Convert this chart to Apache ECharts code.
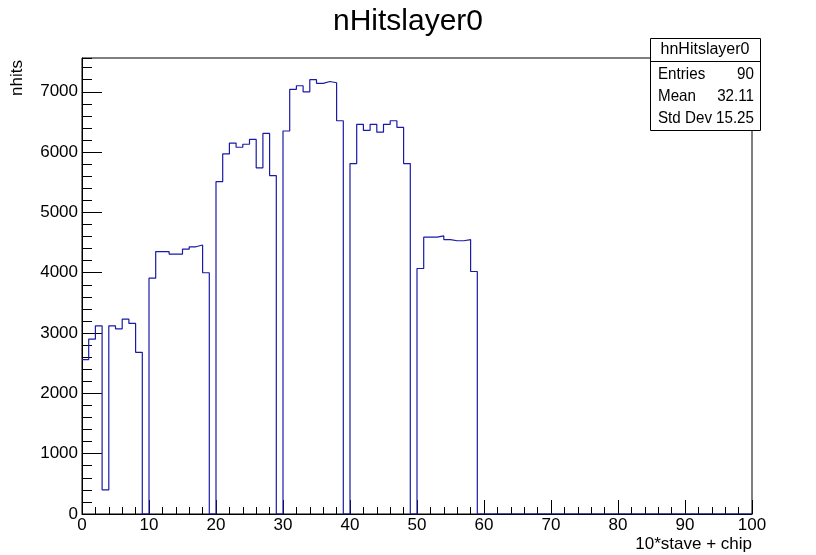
<!DOCTYPE html>
<html>
<head>
<meta charset="utf-8">
<script src="https://cdn.jsdelivr.net/npm/echarts@6/dist/echarts.min.js"></script>
<style>
html,body{margin:0;padding:0;background:#fff;}
#c{width:816px;height:555px;}
</style>
</head>
<body>
<div id="c"></div>
<script>
// Histogram bin contents, 100 bins from 0 to 100
var binValues = [
  2560, 2900, 3120, 400, 3120, 3070, 3230, 3160, 2680, 0,
  3910, 4350, 4350, 4310, 4310, 4390, 4430, 4460, 4000, 0,
  5510, 5970, 6150, 6080, 6130, 6210, 5740, 6310, 5610, 0,
  6350, 7040, 7100, 7000, 7200, 7140, 7170, 7150, 6520, 0,
  5810, 6460, 6360, 6460, 6330, 6460, 6520, 6410, 5810, 0,
  4070, 4590, 4590, 4610, 4550, 4530, 4530, 4550, 4020, 0,
  0, 0, 0, 0, 0, 0, 0, 0, 0, 0,
  0, 0, 0, 0, 0, 0, 0, 0, 0, 0,
  0, 0, 0, 0, 0, 0, 0, 0, 0, 0,
  0, 0, 0, 0, 0, 0, 0, 0, 0, 0
];
var xMin = 0, xMax = 100;
var yMin = 0, yMax = 7560;
var titleText = 'nHitslayer0';
var xTitle = '10*stave + chip';
var yTitle = 'nhits';
var statsName = 'hnHitslayer0';
var statsLabels = ['Entries', 'Mean', 'Std Dev'];
var statsValues = ['90', '32.11', '15.25'];

var binWidth = (xMax - xMin) / binValues.length;
var stepData = binValues.map(function (v, i) { return [xMin + i * binWidth, v]; });
stepData.push([xMax, binValues[binValues.length - 1]]);

var FONT = 'Liberation Sans, Arial, Helvetica, sans-serif';
var chart = echarts.init(document.getElementById('c'));

var statsGraphics = [
  { type: 'rect', shape: { x: 650.5, y: 38.5, width: 110, height: 92 },
    style: { fill: '#fff', stroke: '#000', lineWidth: 1 }, z: 100 },
  { type: 'line', shape: { x1: 650.5, y1: 61.5, x2: 760.5, y2: 61.5 },
    style: { stroke: '#000', lineWidth: 1 }, z: 101 },
  { type: 'text', x: 705, y: 50, z: 102,
    style: { text: statsName, font: '16px ' + FONT, fill: '#000', textAlign: 'center', textVerticalAlign: 'middle' } }
];
statsLabels.forEach(function (lab, i) {
  statsGraphics.push({ type: 'text', x: 658, y: 74 + i * 22, z: 102, scaleX: 0.92,
    style: { text: lab, font: '16.5px ' + FONT, fill: '#000', textAlign: 'left', textVerticalAlign: 'middle' } });
  statsGraphics.push({ type: 'text', x: 754, y: 74 + i * 22, z: 102, scaleX: 0.92,
    style: { text: statsValues[i], font: '16.5px ' + FONT, fill: '#000', textAlign: 'right', textVerticalAlign: 'middle' } });
});

chart.setOption({
  animation: false,
  backgroundColor: '#fff',
  title: {
    text: titleText, left: 'center', top: 2,
    textStyle: { fontFamily: FONT, fontSize: 30, fontWeight: 'normal', color: '#000' }
  },
  grid: { left: 82, right: 64, top: 58, bottom: 41, show: true, borderColor: '#000', borderWidth: 1, backgroundColor: 'transparent' },
  xAxis: {
    type: 'value', min: xMin, max: xMax, interval: 10,
    name: xTitle, nameLocation: 'end', nameGap: 0,
    nameTextStyle: { fontFamily: FONT, fontSize: 17, color: '#000', align: 'right', verticalAlign: 'top', padding: [22, 0, 0, 0] },
    axisLine: { show: true, onZero: false, lineStyle: { color: '#000', width: 1 } },
    axisTick: { show: true, inside: true, length: 14, lineStyle: { color: '#000' } },
    minorTick: { show: true, splitNumber: 5, length: 7, lineStyle: { color: '#000' } },
    axisLabel: { fontFamily: FONT, fontSize: 17, color: '#000', margin: 3 },
    splitLine: { show: false }
  },
  yAxis: [{
    type: 'value', min: yMin, max: yMax, interval: 1000, position: 'left',
    name: yTitle, nameLocation: 'end', nameRotate: 90, nameGap: 0,
    nameTextStyle: { fontFamily: FONT, fontSize: 17, color: '#000', align: 'right', verticalAlign: 'bottom', padding: [0, 2, 56, 0] },
    axisLine: { show: true, onZero: false, lineStyle: { color: '#000', width: 1 } },
    axisTick: { show: true, inside: true, length: 20, lineStyle: { color: '#000' } },
    axisLabel: { fontFamily: FONT, fontSize: 17, color: '#000', margin: 4, showMaxLabel: false,
      formatter: function (v) { return String(v); } },
    splitLine: { show: false }
  }, {
    type: 'value', min: yMin, max: yMax, interval: 200, position: 'left',
    axisLine: { show: false },
    axisTick: { show: true, inside: true, length: 10, lineStyle: { color: '#000' } },
    axisLabel: { show: false },
    splitLine: { show: false }
  }],
  series: [{
    type: 'line', step: 'end', yAxisIndex: 0, data: stepData, symbol: 'none',
    lineStyle: { color: '#1a1aa6', width: 1.2 }, z: 5
  }],
  graphic: statsGraphics
});
</script>
</body>
</html>
